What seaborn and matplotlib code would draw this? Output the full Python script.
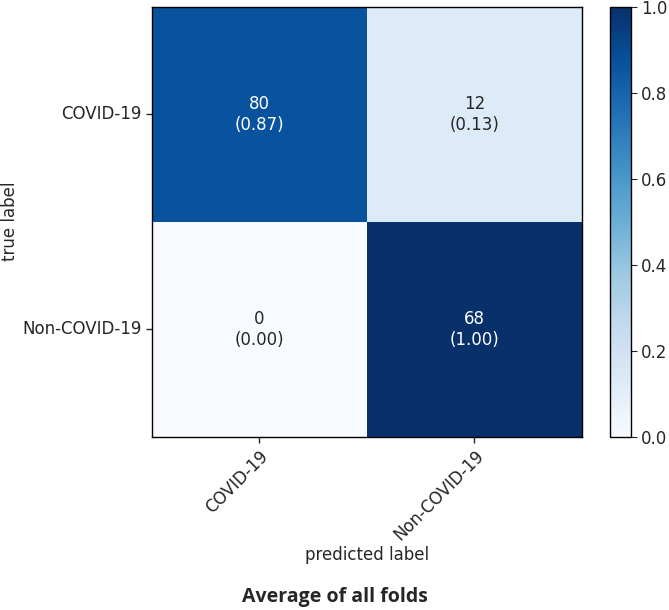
import numpy as np
import pandas as pd
import matplotlib
matplotlib.use("Agg")
import matplotlib.pyplot as plt
import seaborn as sns

# confusion matrix values (counts and row-normalized rates)
classes = ["COVID-19", "Non-COVID-19"]
counts = [[80, 12],
          [0, 68]]
normed = [[0.87, 0.13],
          [0.00, 1.00]]

sns.set_style("white")
plt.rcParams['font.family'] = ['DejaVu Sans']

cm_df = pd.DataFrame(normed, index=classes, columns=classes)
labels = np.array([[f"{c}\n({n:.2f})" for c, n in zip(rc, rn)]
                   for rc, rn in zip(counts, normed)])

fig = plt.figure(figsize=(6.69, 6.10), dpi=100)
ax = fig.add_axes([0.227, 0.284, 0.643, 0.705])
cax = fig.add_axes([0.912, 0.284, 0.031, 0.705])

sns.heatmap(cm_df, annot=labels, fmt="", cmap="Blues", vmin=0, vmax=1,
            ax=ax, cbar_ax=cax, annot_kws={"fontsize": 12})

# frame around the matrix, like plain imshow
for s in ax.spines.values():
    s.set_visible(True)
    s.set_linewidth(1.0)
    s.set_color("black")

ax.tick_params(axis="both", length=4, width=1, labelsize=12, bottom=True, left=True)
ax.set_xticklabels(classes, rotation=45, ha="right", rotation_mode="anchor")
ax.set_yticklabels(classes, rotation=0)
ax.set_xlabel("predicted label", fontsize=12, labelpad=1)
ax.set_ylabel("true label", fontsize=12)
ax.yaxis.set_label_coords(-0.31, 0.5)

cb = ax.collections[0].colorbar
cb.set_ticks([0.0, 0.2, 0.4, 0.6, 0.8, 1.0])
cb.ax.tick_params(labelsize=12, length=4)
cb.outline.set_visible(True)
cb.outline.set_linewidth(1.0)
cb.outline.set_edgecolor("black")

fig.text(0.5, 0.022, "Average of all folds", ha="center", va="center",
         fontsize=14, fontweight="bold", family=["Open Sans", "DejaVu Sans"])

fig.savefig("out.png", dpi=100, facecolor="white")
